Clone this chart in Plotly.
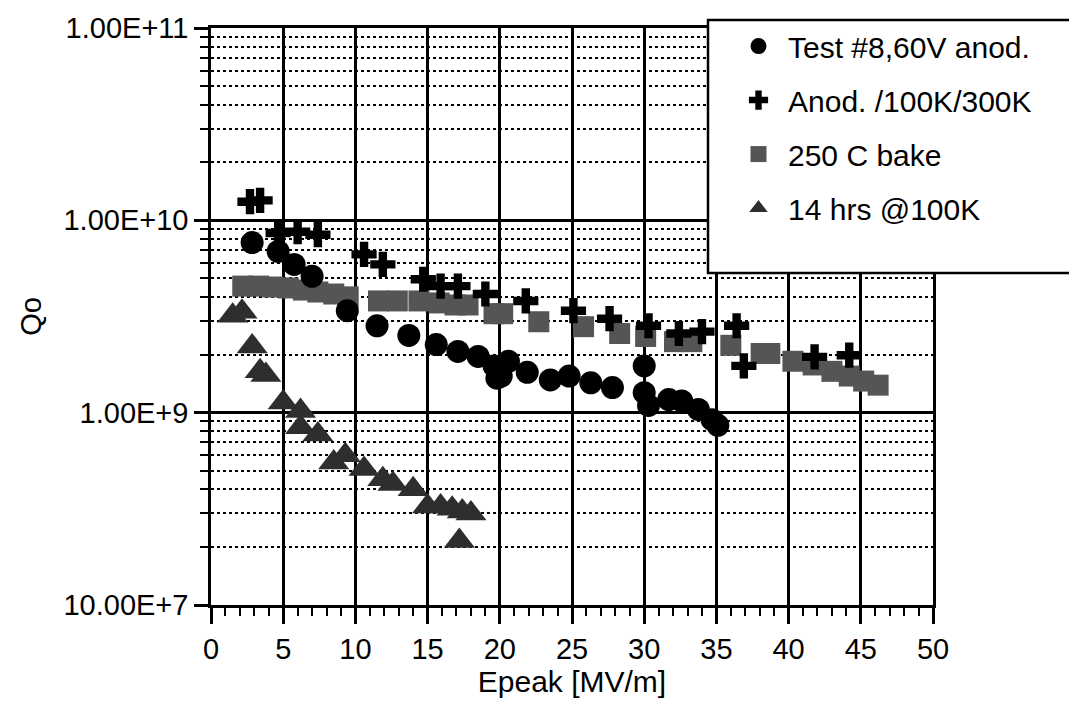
import plotly.graph_objects as go

# ---- data ----
test8_x = [2.85, 4.65, 5.76, 7.0, 9.44, 11.5, 13.7, 15.6, 17.1, 18.5, 19.6, 19.8,
           20.1, 20.6, 21.9, 23.5, 24.8, 26.3, 27.8, 30.0, 30.0, 30.3, 31.7, 32.6,
           33.75, 34.7, 35.1]
test8_y = [7.66e9, 6.89e9, 5.9e9, 5.12e9, 3.39e9, 2.83e9, 2.52e9, 2.26e9, 2.08e9,
           1.96e9, 1.75e9, 1.51e9, 1.55e9, 1.85e9, 1.62e9, 1.48e9, 1.55e9, 1.43e9,
           1.35e9, 1.75e9, 1.27e9, 1.09e9, 1.17e9, 1.15e9, 1.04e9, 0.92e9, 0.86e9]

anod_x = [2.7, 3.4, 4.65, 6.0, 7.4, 10.6, 11.9, 14.7, 15.9, 17.1, 19.0, 21.8, 25.1,
          27.6, 30.3, 32.4, 34.0, 36.4, 36.9, 41.8, 44.2]
anod_y = [1.25e10, 1.27e10, 8.6e9, 8.73e9, 8.42e9, 6.65e9, 5.9e9, 4.94e9, 4.55e9,
          4.55e9, 4.14e9, 3.81e9, 3.39e9, 3.08e9, 2.83e9, 2.58e9, 2.64e9, 2.83e9,
          1.75e9, 1.95e9, 1.99e9]

bake_x = [2.2, 3.3, 4.3, 5.35, 6.4, 7.4, 8.5, 9.5, 11.6, 12.9, 14.4, 15.8, 16.9,
          17.8, 19.6, 20.2, 22.7, 25.8, 28.3, 30.1, 32.1, 33.3, 36.0, 38.1, 38.7,
          40.3, 41.7, 43.0, 44.2, 45.2, 46.2]
bake_y = [4.55e9, 4.55e9, 4.5e9, 4.45e9, 4.34e9, 4.24e9, 4.14e9, 4.0e9, 3.81e9,
          3.81e9, 3.81e9, 3.72e9, 3.63e9, 3.63e9, 3.27e9, 3.27e9, 2.97e9, 2.8e9,
          2.58e9, 2.49e9, 2.34e9, 2.34e9, 2.24e9, 2.03e9, 2.03e9, 1.85e9, 1.77e9,
          1.64e9, 1.55e9, 1.46e9, 1.39e9]

hrs_x = [1.5, 2.15, 2.85, 3.4, 3.8, 5.0, 6.2, 6.2, 7.4, 8.5, 9.3, 10.6, 11.9, 12.6,
         14.0, 15.0, 15.9, 16.7, 17.4, 18.0, 17.2]
hrs_y = [3.19e9, 3.35e9, 2.21e9, 1.64e9, 1.57e9, 1.13e9, 1.02e9, 8.4e8, 7.7e8,
         5.5e8, 6.0e8, 5.1e8, 4.5e8, 4.26e8, 4.0e8, 3.25e8, 3.25e8, 3.17e8,
         3.06e8, 2.99e8, 2.15e8]

names = ["Test #8,60V anod.", "Anod. /100K/300K", "250 C bake", "14 hrs @100K"]

y_major = [1e8, 1e9, 1e10, 1e11]
y_major_text = ["10.00E+7", "1.00E+9", "1.00E+10", "1.00E+11"]
y_minor = [m * d for d in [1e8, 1e9, 1e10] for m in range(2, 10)]
x_ticks = [0, 5, 10, 15, 20, 25, 30, 35, 40, 45, 50]

FONT = "Liberation Sans, Arial, sans-serif"

fig = go.Figure()
fig.add_trace(go.Scatter(x=bake_x, y=bake_y, mode="markers", name=names[2],
                         legendrank=3, legendgroup="c",
                         marker=dict(symbol="square", size=21, color="#555555")))
fig.add_trace(go.Scatter(x=hrs_x, y=hrs_y, mode="markers", name=names[3],
                         legendrank=4, legendgroup="d",
                         marker=dict(symbol="triangle-up", size=27, color="#2e2e2e")))
fig.add_trace(go.Scatter(x=anod_x, y=anod_y, mode="markers", name=names[1],
                         legendrank=2, legendgroup="b",
                         marker=dict(symbol="cross", size=21, color="black")))
fig.add_trace(go.Scatter(x=test8_x, y=test8_y, mode="markers", name=names[0],
                         legendrank=1, legendgroup="a",
                         marker=dict(symbol="circle", size=23, color="black")))

L, R, T, B = 211, 933, 23, 605
W, H = 1069, 704
pw, ph = R - L, B - T

def px(xp):
    return (xp - L) / pw

def py(yp):
    return (B - yp) / ph

fig.update_layout(
    width=W, height=H,
    margin=dict(l=L, r=W - R, t=T, b=H - B),
    paper_bgcolor="white", plot_bgcolor="white",
    font=dict(family=FONT, size=29, color="black"),
    showlegend=True,
    legend=dict(x=px(729), y=py(15), xanchor="left", yanchor="top",
                bgcolor="rgba(0,0,0,0)", borderwidth=0,
                font=dict(family=FONT, size=30, color="black"),
                tracegroupgap=12, itemsizing="trace", itemwidth=49),
    shapes=[dict(type="rect", xref="paper", yref="paper", layer="above",
                 x0=px(708), x1=px(1080), y0=py(270), y1=py(15),
                 line=dict(color="black", width=2.5), fillcolor="white")],
)

fig.update_xaxes(
    range=[0, 50], tickvals=x_ticks, ticks="outside", ticklen=16, tickwidth=2.5,
    tickcolor="black", showline=True, linecolor="black", linewidth=2.5,
    mirror=True, showgrid=True, gridcolor="black", gridwidth=2.5, zeroline=False,
    tickfont=dict(size=29),
    minor=dict(dtick=1, ticks="outside", ticklen=8, tickwidth=2, tickcolor="black",
               showgrid=False),
    title=dict(text="Epeak [MV/m]", font=dict(size=30), standoff=4),
)
fig.update_yaxes(
    type="log", range=[8, 11], tickvals=y_major, ticktext=y_major_text,
    ticks="outside", ticklen=14, tickwidth=2.5, tickcolor="black",
    showline=True, linecolor="black", linewidth=2.5, mirror=True,
    showgrid=True, gridcolor="black", gridwidth=3, zeroline=False,
    tickfont=dict(size=29),
    minor=dict(tickvals=y_minor, ticks="outside", ticklen=8, tickwidth=2,
               tickcolor="black", showgrid=True, gridcolor="black",
               gridwidth=2, griddash="dot"),
    title=dict(text="Qo", font=dict(size=29), standoff=14),
)

fig.write_html("out.html")
